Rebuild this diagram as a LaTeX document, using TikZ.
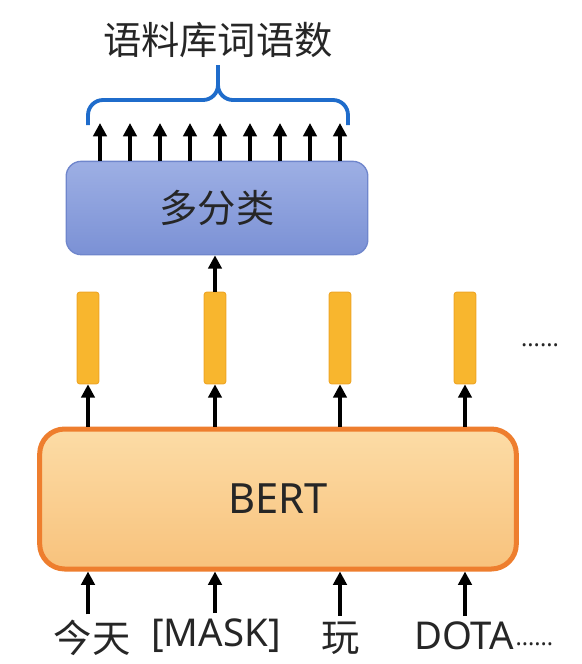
\documentclass[tikz,border=0pt]{standalone}
\usepackage{fontspec}
\setmainfont{Noto Sans}
\newfontfamily\cjk{Noto Sans CJK SC}
\usepackage{xcolor}
\usetikzlibrary{arrows.meta}
\usetikzlibrary{positioning}

\definecolor{braceblue}{HTML}{1F6CCB}
\definecolor{clstop}{HTML}{9DAFE4}
\definecolor{clsbot}{HTML}{7B91D5}
\definecolor{clsline}{HTML}{6F86CC}
\definecolor{vecfill}{HTML}{F8B62E}
\definecolor{vecline}{HTML}{EFA626}
\definecolor{berttop}{HTML}{FCDCA6}
\definecolor{bertbot}{HTML}{F8C27C}
\definecolor{bertline}{HTML}{EE7E2E}

\begin{document}
\begin{tikzpicture}[
    x=0.6pt, y=-0.6pt,
    every node/.style={font=\cjk\fontsize{23}{27}\selectfont, text=black!85},
    arr/.style={-{Triangle[length=8pt, width=8pt]}, line width=2.3pt, black},
    clsbox/.style={rectangle, rounded corners=9pt, draw=clsline, line width=0.8pt,
      top color=clstop, bottom color=clsbot, minimum width=181pt, minimum height=56pt},
    bertbox/.style={rectangle, rounded corners=15pt, draw=bertline, line width=3pt,
      top color=berttop, bottom color=bertbot, minimum width=286pt, minimum height=84pt,
      font=\fontsize{25}{29}\selectfont},
    vec/.style={rectangle, rounded corners=1.5pt, draw=vecline, fill=vecfill,
      line width=0.6pt, minimum width=13pt, minimum height=55pt, inner sep=0pt},
    word/.style={font=\cjk\fontsize{23}{27}\selectfont},
    latin/.style={font=\fontsize{23}{27}\selectfont},
  ]
  \useasboundingbox (0,0) rectangle (582,664);

  % Nodes
  \node (title) at (218,40) {语料库词语数};
  \node[clsbox]  (cls)  at (217,208) {多分类};
  \node[bertbox] (bert) at (278,499) {BERT};

  \node[vec] (h1) at (88,338)  {};
  \node[vec] (h2) at (215,338) {};
  \node[vec] (h3) at (340,338) {};
  \node[vec] (h4) at (465,338) {};
  \node[font=\fontsize{14}{16}\selectfont] (hdots) at (540,345) {......};

  \node[word]  (w1) at (92,638)  {今天};
  \node[latin] (w2) at (216,636) {[MASK]};
  \node[word]  (w3) at (341,638) {玩};
  \node[latin] (w4) at (464,636) {DOTA};
  \node[right=-6pt of w4, yshift=-5pt, font=\fontsize{14}{16}\selectfont] (wdots) {......};

  % Output arrows and brace
  \foreach \i in {0,...,8} {
    \coordinate (o\i) at (100+30*\i,123);
    \draw[arr] (cls.north -| o\i) -- (o\i);
  }
  \coordinate (bl) at (88,125);
  \coordinate (br) at (348,125);
  \coordinate (bt) at (218,65);
  \draw[braceblue, line width=2.3pt, rounded corners=9pt]
    (bl) -- (bl |- 0,100) -- (bt |- 0,100) -- (bt);
  \draw[braceblue, line width=2.3pt, rounded corners=9pt]
    (br) -- (br |- 0,100) -- (bt |- 0,100) -- (bt);

  % BERT to vectors
  \foreach \h in {h1,h2,h3,h4} {
    \draw[arr] (bert.north -| \h) -- (\h.south);
  }
  \draw[arr] (h2.north) -- (cls.south -| h2);

  % Inputs to BERT
  \foreach \w/\h in {w1/h1,w2/h2,w3/h3,w4/h4} {
    \draw[arr] (\w.north -| \h) -- (bert.south -| \h);
  }

\end{tikzpicture}
\end{document}
